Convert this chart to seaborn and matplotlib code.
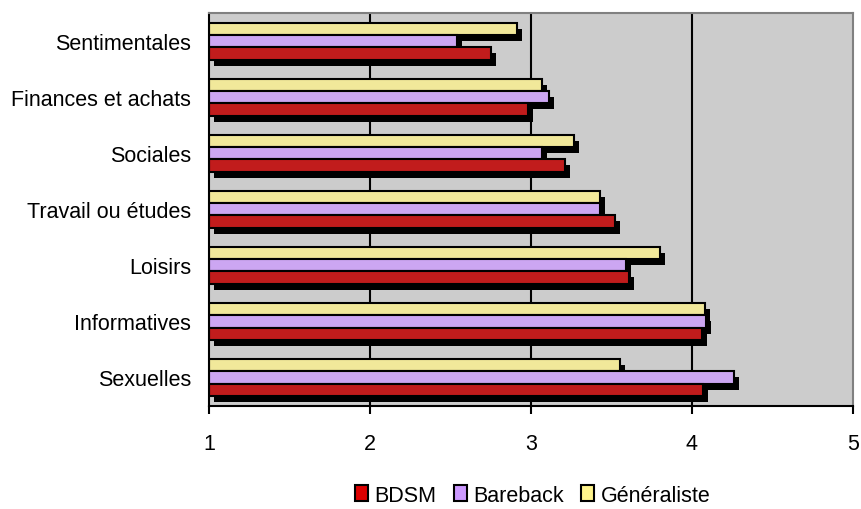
import numpy as np
import pandas as pd
import matplotlib
matplotlib.use("Agg")
import matplotlib.pyplot as plt
import seaborn as sns
from matplotlib.patches import Patch, Rectangle
from matplotlib.transforms import ScaledTranslation

# ---- data ----
categories = ["Sentimentales", "Finances et achats", "Sociales",
              "Travail ou études", "Loisirs", "Informatives", "Sexuelles"]
series_names = ["BDSM", "Bareback", "Généraliste"]
bdsm = [2.75, 2.98, 3.21, 3.52, 3.61, 4.06, 4.07]
bareback = [2.54, 3.11, 3.07, 3.43, 3.59, 4.09, 4.26]
generaliste = [2.91, 3.07, 3.27, 3.43, 3.80, 4.08, 3.55]
x_ticks = [1, 2, 3, 4, 5]

colors = {"BDSM": "#DD0000", "Bareback": "#CC99FF", "Généraliste": "#FFF48C"}

df = pd.DataFrame({
    "Catégorie": categories * 3,
    "Série": [series_names[0]] * 7 + [series_names[1]] * 7 + [series_names[2]] * 7,
    "Valeur": bdsm + bareback + generaliste,
})

sns.set_style("white")
plt.rcParams["font.family"] = ["Liberation Sans", "DejaVu Sans"]
plt.rcParams["text.color"] = "black"
plt.rcParams["xtick.labelcolor"] = "black"
plt.rcParams["ytick.labelcolor"] = "black"

fig = plt.figure(figsize=(8.62, 5.10), dpi=100)
ax = fig.add_axes([209 / 862, 1 - 406.5 / 510, (853 - 209) / 862, (406.5 - 14) / 510])
ax.set_facecolor("#CCCCCC")

sns.barplot(data=df, x="Valeur", y="Catégorie", hue="Série",
            hue_order=["Généraliste", "Bareback", "BDSM"], order=categories,
            palette=colors, orient="h", width=0.66, edgecolor="black",
            linewidth=1.5, legend=False, errorbar=None, ax=ax)

base = x_ticks[0]
bars = list(ax.patches)
shadow_tr = ax.transData + ScaledTranslation(0.05, -0.06, fig.dpi_scale_trans)
for p in bars:
    w = p.get_width()
    p.set_x(base)
    p.set_width(w - base)
    p.set_zorder(2)
    sh = Rectangle((p.get_x(), p.get_y()), p.get_width(), p.get_height(),
                   facecolor="black", edgecolor="none", zorder=1.5,
                   transform=shadow_tr)
    ax.add_patch(sh)
    sh.set_transform(shadow_tr)

ax.set_xlim(1, 5)
ax.set_xticks(x_ticks)
ax.set_xticklabels([str(t) for t in x_ticks], fontsize=15.5)
ax.set_xlabel("")
ax.set_ylabel("")
ax.tick_params(axis="y", which="major", length=0, pad=13, labelsize=15.5, labelcolor="black")
ax.set_yticks(np.arange(-0.5, len(categories), 1), minor=True)
ax.tick_params(axis="y", which="minor", length=5.3, width=1.5, color="black", direction="out")
ax.tick_params(axis="x", which="major", length=5.5, width=1.5, color="black",
               direction="out", pad=14, bottom=True, labelcolor="black")

ax.set_axisbelow(True)
ax.grid(axis="x", color="black", linewidth=1.5)
ax.grid(axis="y", visible=False)
gl = ax.get_xgridlines()
gl[0].set_visible(False)
gl[-1].set_visible(False)

for s in ["left", "bottom"]:
    ax.spines[s].set_color("black")
    ax.spines[s].set_linewidth(1.5)
for s in ["top", "right"]:
    ax.spines[s].set_color("#808080")
    ax.spines[s].set_linewidth(1.5)

handles = [Patch(facecolor=colors[n], edgecolor="black", linewidth=1.5, label=n)
           for n in series_names]
fig.legend(handles=handles, loc="center", bbox_to_anchor=(0.618, 0.027),
           ncol=3, frameon=False, fontsize=15.5, handlelength=0.6,
           handleheight=0.75, handletextpad=0.3, columnspacing=0.8,
           borderpad=0.0, labelcolor="black")

fig.savefig("out.png", dpi=100)
